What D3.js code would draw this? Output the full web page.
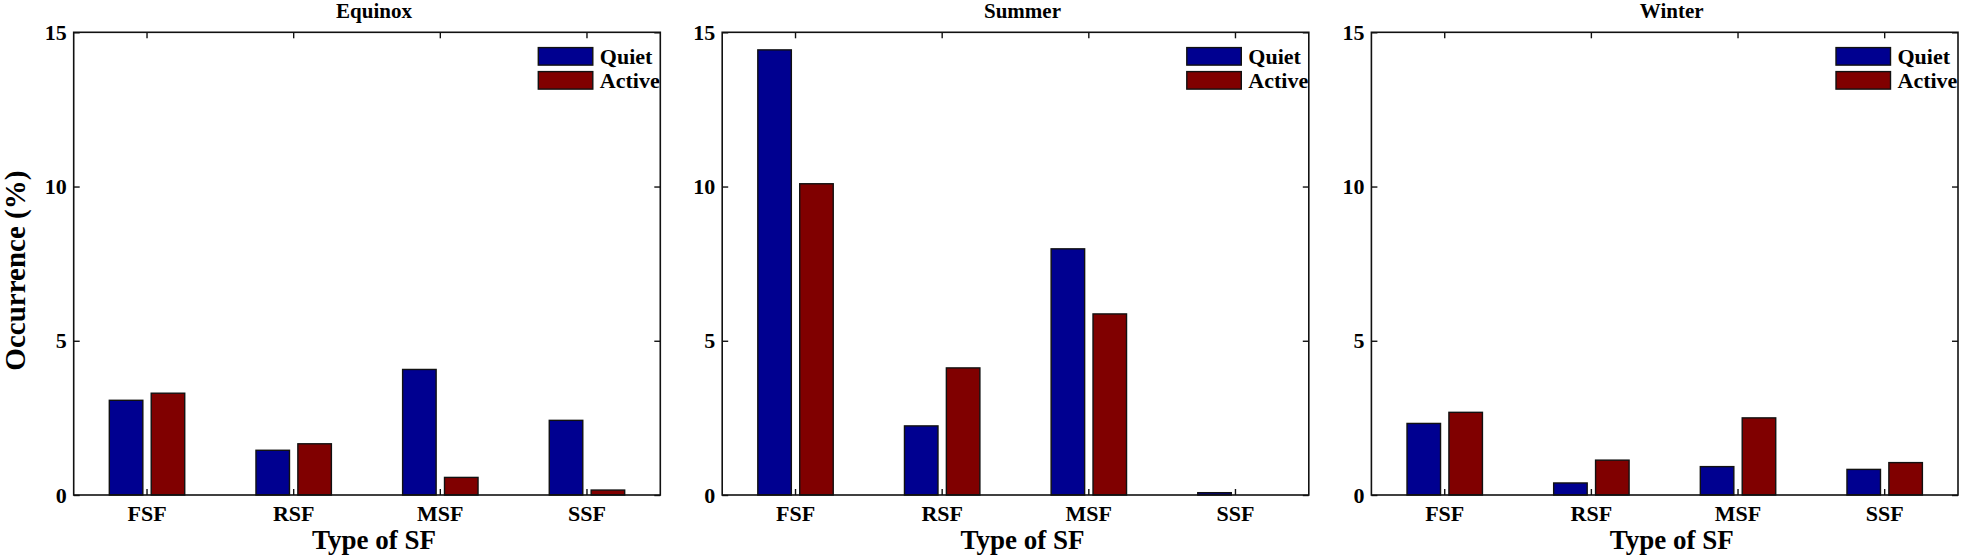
<!DOCTYPE html>
<html>
<head>
<meta charset="utf-8">
<script src="https://cdn.jsdelivr.net/npm/d3@7"></script>
<style>
  html, body { margin: 0; padding: 0; background: #fff; }
  svg { display: block; }
  text { font-family: "Liberation Serif", "Times New Roman", serif; font-weight: bold; fill: #000; }
</style>
</head>
<body>
<svg id="chart" width="1961" height="560"></svg>
<script>
// ---- data ----
const seasons = ["Equinox", "Summer", "Winter"];
const categories = ["FSF", "RSF", "MSF", "SSF"];
const seriesNames = ["Quiet", "Active"];
const quietValues = [
  [3.07, 1.45, 4.07, 2.42],   // Equinox
  [14.43, 2.24, 7.98, 0.075], // Summer
  [2.32, 0.39, 0.92, 0.83]    // Winter
];
const activeValues = [
  [3.30, 1.66, 0.57, 0.16],
  [10.09, 4.12, 5.87, 0.0],
  [2.68, 1.13, 2.50, 1.05]
];
const yTicks = [0, 5, 10, 15];
const yDomain = [0, 15];
const xLabel = "Type of SF";
const yLabel = "Occurrence (%)";

// ---- layout ----
const colors = { Quiet: "#000090", Active: "#800000" };
const panelLefts = [73.7, 722.2, 1371.4];
const W = 586.6, plotTop = 32.3, H = 462.7;
const svg = d3.select("#chart");

const x = d3.scaleBand().domain(categories).range([0, W]).paddingInner(0).paddingOuter(0);
const bw = x.bandwidth();
const xs = d3.scaleBand().domain(seriesNames)
  .range([-0.2857 * bw, 0.2857 * bw]).paddingInner(0.2).paddingOuter(0.1);
const y = d3.scaleLinear().domain(yDomain).range([H, 0]);

seasons.forEach((season, si) => {
  const g = svg.append("g").attr("transform", `translate(${panelLefts[si]},${plotTop})`);
  const rows = categories.map((c, ci) => ({
    cat: c,
    vals: [
      { s: "Quiet", v: quietValues[si][ci] },
      { s: "Active", v: activeValues[si][ci] }
    ]
  }));

  // bars
  const grp = g.selectAll("g.cat").data(rows).enter().append("g")
    .attr("class", "cat")
    .attr("transform", d => `translate(${x(d.cat) + bw / 2},0)`);
  grp.selectAll("rect").data(d => d.vals.filter(e => e.v > 0)).enter().append("rect")
    .attr("x", d => xs(d.s))
    .attr("width", xs.bandwidth())
    .attr("y", d => y(d.v))
    .attr("height", d => y(0) - y(d.v))
    .attr("fill", d => colors[d.s])
    .attr("stroke", "#111")
    .attr("stroke-width", 1.4);

  // axes (ticks inward)
  const axL = g.append("g").call(d3.axisLeft(y).tickValues(yTicks).tickSize(-6).tickPadding(7));
  const axR = g.append("g").attr("transform", `translate(${W},0)`)
    .call(d3.axisRight(y).tickValues(yTicks).tickSize(-6).tickFormat(""));
  const axB = g.append("g").attr("transform", `translate(0,${H})`)
    .call(d3.axisBottom(x).tickSize(-6).tickPadding(10));
  const axT = g.append("g")
    .call(d3.axisTop(x).tickSize(-6).tickFormat(""));
  [axL, axR, axB, axT].forEach(a => {
    a.select(".domain").remove();
    a.selectAll("line").attr("stroke", "#111").attr("stroke-width", 1.4);
    a.selectAll("text").attr("font-size", 22)
      .style("font-family", '"Liberation Serif", "Times New Roman", serif')
      .style("font-weight", "bold").attr("fill", "#000");
  });

  // box
  g.append("rect").attr("x", 0).attr("y", 0).attr("width", W).attr("height", H)
    .attr("fill", "none").attr("stroke", "#111").attr("stroke-width", 1.6);

  // title
  g.append("text").attr("x", W / 2 + 7).attr("y", -14)
    .attr("text-anchor", "middle").attr("font-size", 21).text(season);

  // x label
  g.append("text").attr("x", W / 2 + 7).attr("y", H + 54)
    .attr("text-anchor", "middle").attr("font-size", 27).text(xLabel);

  // legend
  const lg = g.append("g").attr("transform", `translate(${W - 122},0)`);
  seriesNames.forEach((s, i) => {
    lg.append("rect").attr("x", 0).attr("y", 15.3 + i * 24)
      .attr("width", 54.5).attr("height", 17.5)
      .attr("fill", colors[s]).attr("stroke", "#111").attr("stroke-width", 1.4);
    lg.append("text").attr("x", 61.5).attr("y", 31.5 + i * 24)
      .attr("font-size", 22).text(s);
  });
});

// y label (only first panel)
svg.append("text")
  .attr("transform", `translate(25,${plotTop + H / 2 + 7}) rotate(-90)`)
  .attr("text-anchor", "middle").attr("font-size", 29).text(yLabel);
</script>
</body>
</html>
